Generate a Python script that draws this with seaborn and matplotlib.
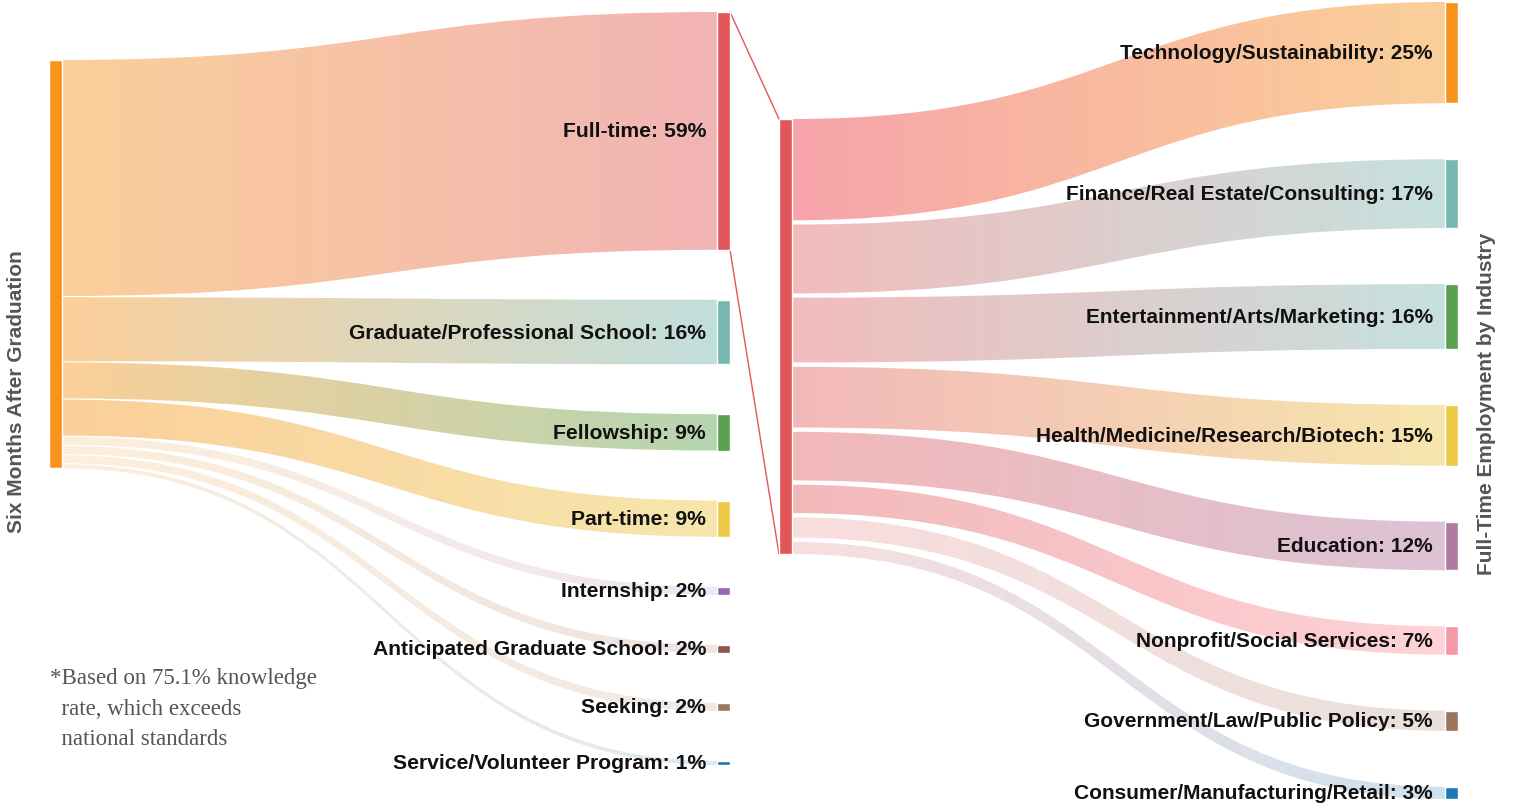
import numpy as np
import seaborn as sns
import matplotlib
matplotlib.use("Agg")
from matplotlib import pyplot as plt
from matplotlib.path import Path
from matplotlib.patches import PathPatch
from matplotlib.colors import to_rgb

sns.set_theme(style="white")
plt.rcParams['font.family'] = ['Liberation Sans', 'DejaVu Sans']

# ---- data ----
source_label = "Six Months After Graduation"
outcome_labels = ["Full-time", "Graduate/Professional School", "Fellowship", "Part-time",
                  "Internship", "Anticipated Graduate School", "Seeking",
                  "Service/Volunteer Program"]
outcome_pct = [59, 16, 9, 9, 2, 2, 2, 1]

industry_title = "Full-Time Employment by Industry"
industry_labels = ["Technology/Sustainability", "Finance/Real Estate/Consulting",
                   "Entertainment/Arts/Marketing", "Health/Medicine/Research/Biotech",
                   "Education", "Nonprofit/Social Services", "Government/Law/Public Policy",
                   "Consumer/Manufacturing/Retail"]
industry_pct = [25, 17, 16, 15, 12, 7, 5, 3]

footnote = "*Based on 75.1% knowledge\n  rate, which exceeds\n  national standards"

# ---- colours ----
source_color = "#F7941D"
outcome_colors = ["#E15759", "#76B7B2", "#59A14F", "#EDC948",
                  "#9467BD", "#8C564B", "#9C755F", "#1F77B4"]
industry_colors = ["#F7941D", "#76B7B2", "#59A14F", "#EDC948",
                   "#B07AA1", "#F49AA6", "#9C755F", "#1F77B4"]
# flow colours at each end (entertainment flow fades to teal in the original)
industry_flow_start = ["#F0606E", "#E15759", "#E15759", "#E15759",
                       "#E15759", "#E15759", "#E15759", "#E15759"]
industry_flow_end = ["#F7941D", "#76B7B2", "#76B7B2", "#EDC948",
                     "#B07AA1", "#FF9DA7", "#9C755F", "#1F77B4"]
outcome_alpha = [0.45, 0.45, 0.45, 0.45, 0.16, 0.16, 0.16, 0.16]
industry_alpha_start = [0.58, 0.4, 0.4, 0.42, 0.42, 0.42, 0.2, 0.2]
industry_alpha_end = [0.45, 0.42, 0.42, 0.45, 0.45, 0.45, 0.22, 0.22]

W, H = 1515, 808
NODE_W = 13


def flow(ax, x0, x1, y0a, y0b, y1a, y1b, c0, c1, a0, a1):
    xm = (x0 + x1) / 2
    verts = [(x0, y0a), (xm, y0a), (xm, y1a), (x1, y1a), (x1, y1b),
             (xm, y1b), (xm, y0b), (x0, y0b), (x0, y0a)]
    codes = [Path.MOVETO, Path.CURVE4, Path.CURVE4, Path.CURVE4, Path.LINETO,
             Path.CURVE4, Path.CURVE4, Path.CURVE4, Path.CLOSEPOLY]
    patch = PathPatch(Path(verts, codes), facecolor="none", edgecolor="none")
    ax.add_patch(patch)
    t = np.linspace(0, 1, 256)[:, None]
    rgba = np.zeros((1, 256, 4))
    rgba[0, :, :3] = (1 - t) * np.array(to_rgb(c0)) + t * np.array(to_rgb(c1))
    rgba[0, :, 3] = (1 - t[:, 0]) * a0 + t[:, 0] * a1
    ymin = min(y0a, y1a) - 2
    ymax = max(y0b, y1b) + 2
    im = ax.imshow(rgba, extent=(x0, x1, ymax, ymin), aspect="auto",
                   interpolation="bilinear", zorder=1)
    im.set_clip_path(patch)


def stack(values, top, scale, gap):
    tops, y = [], top
    for v in values:
        tops.append(y)
        y += v * scale + gap
    return np.array(tops), np.array(values) * scale


fig = plt.figure(figsize=(W / 100, H / 100), dpi=100)
ax = fig.add_axes([0, 0, 1, 1])

# ---- first sankey: outcomes ----
x_src, x_mid = 49, 717
src_tops, src_h = stack(outcome_pct, 60, 4.0, 1.2)
mid_tops, mid_h = stack(outcome_pct, 12, 4.03, 50)

ax.bar(x_src, src_tops[-1] + src_h[-1] - src_tops[0], bottom=src_tops[0], width=NODE_W,
       align="edge", color=source_color, zorder=3)
for i, lab in enumerate(outcome_labels):
    flow(ax, x_src + NODE_W, x_mid, src_tops[i], src_tops[i] + src_h[i],
         mid_tops[i], mid_tops[i] + mid_h[i], source_color, outcome_colors[i],
         outcome_alpha[i], outcome_alpha[i])
    ax.bar(x_mid, mid_h[i], bottom=mid_tops[i], width=NODE_W, align="edge",
           color=outcome_colors[i], zorder=3)
    ax.text(x_mid - 11, mid_tops[i] + mid_h[i] / 2 + 1, f"{lab}: {outcome_pct[i]}%",
            ha="right", va="center", fontsize=15.2, fontweight="bold", color="#111111", zorder=4)

# ---- second sankey: full-time by industry ----
x_ft, x_ind = 779, 1445
ft_top, ft_scale = 119, 4.05
gap_ft = (435 - sum(industry_pct) * ft_scale) / (len(industry_pct) - 1)
ft_tops, ft_h = stack(industry_pct, ft_top, ft_scale, gap_ft)
ind_tops, ind_h = stack(industry_pct, 2, 4.05, 56)

ft_bottom = ft_tops[-1] + ft_h[-1]
ax.bar(x_ft, ft_bottom - ft_top, bottom=ft_top, width=NODE_W, align="edge",
       color=outcome_colors[0], zorder=3)
# connector lines from the full-time node
ax.plot([x_mid + NODE_W, x_ft], [mid_tops[0], ft_top], color=outcome_colors[0], lw=1, zorder=2)
ax.plot([x_mid + NODE_W, x_ft], [mid_tops[0] + mid_h[0], ft_bottom],
        color=outcome_colors[0], lw=1, zorder=2)

for i, lab in enumerate(industry_labels):
    flow(ax, x_ft + NODE_W, x_ind, ft_tops[i], ft_tops[i] + ft_h[i],
         ind_tops[i], ind_tops[i] + ind_h[i], industry_flow_start[i], industry_flow_end[i],
         industry_alpha_start[i], industry_alpha_end[i])
    ax.bar(x_ind, ind_h[i], bottom=ind_tops[i], width=NODE_W, align="edge",
           color=industry_colors[i], zorder=3)
    ax.text(x_ind - 12, ind_tops[i] + ind_h[i] / 2 + 1, f"{lab}: {industry_pct[i]}%",
            ha="right", va="center", fontsize=15, fontweight="bold", color="#111111", zorder=4)

# ---- titles and footnote ----
ax.text(17, 392, source_label, rotation=90, ha="center", va="center",
        fontsize=15, fontweight="bold", color="#555555")
ax.text(1487, 404, industry_title, rotation=90, ha="center", va="center",
        fontsize=15, fontweight="bold", color="#555555")
ax.text(50, 668, footnote, ha="left", va="top", fontsize=16.5, color="#555555",
        family=["Liberation Serif", "DejaVu Serif"], linespacing=1.6)

ax.set_xlim(0, W)
ax.set_ylim(H, 0)
ax.axis("off")
sns.despine(ax=ax, left=True, bottom=True)

fig.savefig("out.png", dpi=100)
